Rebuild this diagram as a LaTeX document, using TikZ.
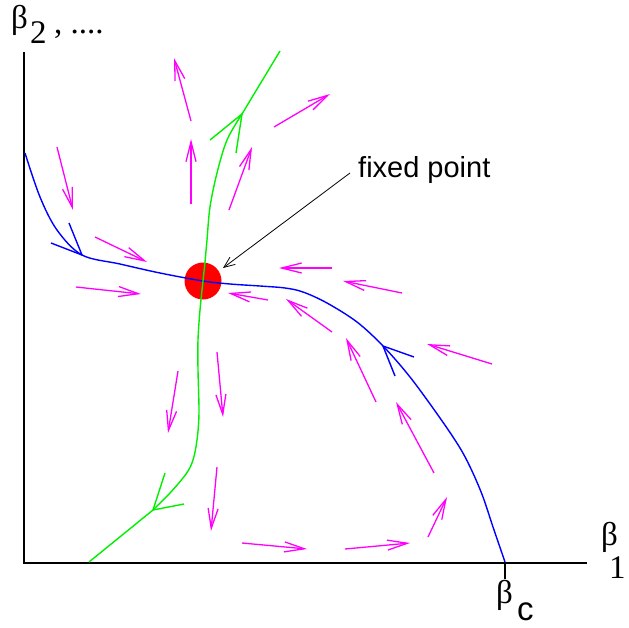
\documentclass[tikz,border=0pt]{standalone}
\usepackage{fontspec}
\setmainfont{Liberation Serif}
\newfontfamily\labelsans{Liberation Sans}
\usetikzlibrary{arrows.meta}
\definecolor{mag}{RGB}{255,0,255}
\definecolor{fblue}{RGB}{0,0,255}
\definecolor{fgreen}{RGB}{0,240,0}
\definecolor{fred}{RGB}{255,0,0}
\begin{document}
\begin{tikzpicture}[x=1pt,y=-1pt,
  flowarrow/.style={draw=mag, line width=1.3pt, -{Straight Barb[length=20pt,width=10pt]}},
  axisline/.style={draw=black, line width=1.4pt},
  bluecurve/.style={draw=fblue, line width=1.4pt},
  greencurve/.style={draw=fgreen, line width=1.4pt},
  greeklabel/.style={inner sep=0pt, anchor=base west, font=\fontsize{33}{33}\selectfont},
  sublabel/.style={inner sep=0pt, anchor=base west, font=\fontsize{33}{33}\selectfont},
  annot/.style={draw=black, line width=0.8pt, -{Straight Barb[length=11pt,width=9pt]}}]
\useasboundingbox (0,0) rectangle (629,627);

% axes
\coordinate (origin) at (24,563);
\coordinate (ytop) at (24,52);
\coordinate (xend) at (587,563);
\coordinate (bc) at (505,563);
\coordinate (bcl) at (505,579);
\draw[axisline] (ytop) -- (origin) -- (xend);
\draw[axisline] (bc) -- (bcl);

% labels
\node[greeklabel] (b2) at (11,28) {β};
\node[sublabel] (b2s) at (30,43) {2};
\node[greeklabel] (b2d) at (54,33) {, ....};
\node[greeklabel] (b1) at (601,545) {β};
\node[sublabel] (b1s) at (609,578) {1};
\node[greeklabel] (bcn) at (496,603) {β};
\node[sublabel] (bcs) at (517,620) {\labelsans c};

% fixed point
\node[circle, fill=fred, minimum size=37pt, inner sep=0pt] (fp) at (203,281) {};

% blue separatrix
\draw[bluecurve] plot[smooth, tension=0.55] coordinates {(25,153) (40,197) (57,230) (82,255) (120,264) (160,273) (203,281) (230,284) (260,286) (285,288) (303,292) (327,303) (357,322) (383,346) (410,377) (440,418) (460,448) (472,471) (483,497) (493,527) (505,562)};
\draw[bluecurve] (69,223) -- (82,255) -- (51,243);
\draw[bluecurve] (414,357) -- (383,346) -- (395,376);

% green separatrix
\draw[greencurve] (280,51) -- plot[smooth, tension=0.55] coordinates {(242,114) (227,140) (217,173) (210,207) (207,240) (205,262) (203,281) (200,310) (198,340) (198,370) (199,413) (197,440) (193,460) (186,474) (170,493) (153,510)} -- (89,562);
\draw[greencurve] (210,140) -- (242,114) -- (236,153);
\draw[greencurve] (165,473) -- (153,510) -- (184,504);

% flow arrows
\draw[flowarrow] (57,147) -- (73,210);
\draw[flowarrow] (191,204) -- (191,139);
\draw[flowarrow] (95,237) -- (147,262);
\draw[flowarrow] (76,287) -- (141,294);
\draw[flowarrow] (191,121) -- (174,58);
\draw[flowarrow] (229,210) -- (252,147);
\draw[flowarrow] (274,127) -- (330,94);
\draw[flowarrow] (332,268) -- (279,268);
\draw[flowarrow] (402,293) -- (343,281);
\draw[flowarrow] (332,332) -- (286,299);
\draw[flowarrow] (492,364) -- (427,344);
\draw[flowarrow] (376,402) -- (346,338);
\draw[flowarrow] (268,300) -- (228,293);
\draw[flowarrow] (434,473) -- (396,402);
\draw[flowarrow] (428,537) -- (447,497);
\draw[flowarrow] (345,549) -- (410,543);
\draw[flowarrow] (242,543) -- (307,549);
\draw[flowarrow] (217,467) -- (211,531);
\draw[flowarrow] (178,371) -- (168,433);
\draw[flowarrow] (217,352) -- (223,417);

% annotation
\node[inner sep=0pt, anchor=base west, font=\labelsans\fontsize{29}{29}\selectfont] (fptext) at (358,177) {fixed point};
\coordinate (annstart) at (350,173);
\draw[annot] (annstart) -- (223,268);
\end{tikzpicture}
\end{document}
